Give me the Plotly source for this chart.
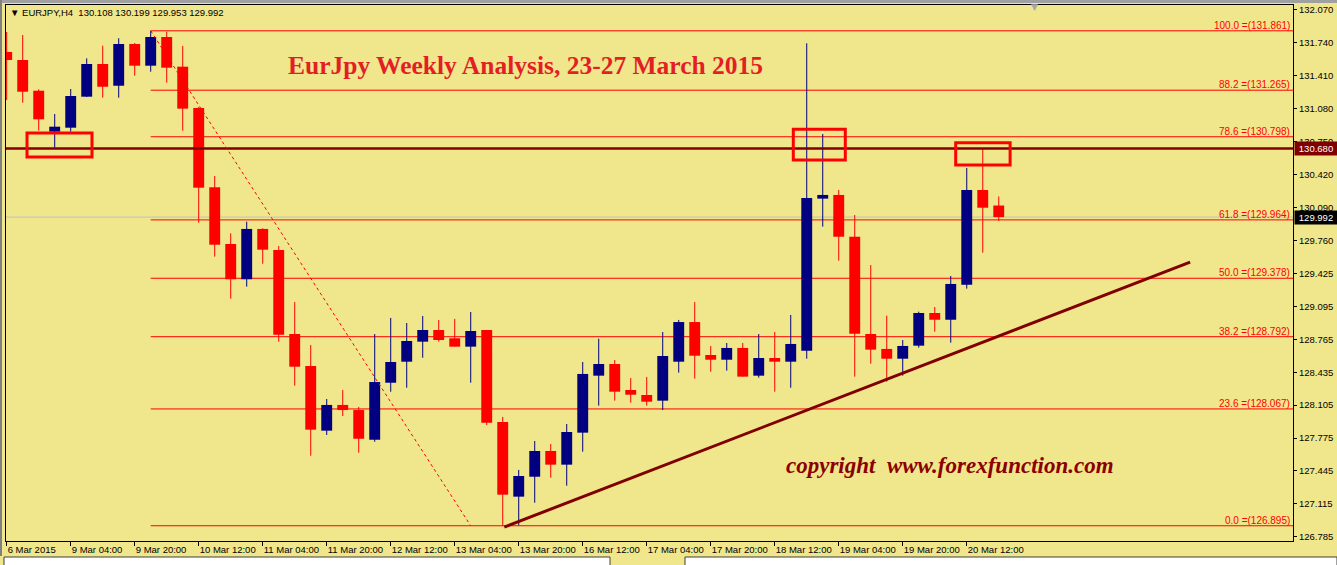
import plotly.graph_objects as go

# ---------------- data ----------------
tick_idx = [0, 4, 8, 12, 16, 20, 24, 28, 32, 36, 40, 44, 48, 52, 56, 60]
tick_labels = ["6 Mar 2015", "9 Mar 04:00", "9 Mar 20:00", "10 Mar 12:00", "11 Mar 04:00",
               "11 Mar 20:00", "12 Mar 12:00", "13 Mar 04:00", "13 Mar 20:00", "16 Mar 12:00",
               "17 Mar 04:00", "17 Mar 20:00", "18 Mar 12:00", "19 Mar 04:00", "19 Mar 20:00",
               "20 Mar 12:00"]

opens = [131.649, 131.568, 131.260, 130.849, 130.889, 131.200, 131.528, 131.310, 131.729, 131.511,
         131.799, 131.501, 131.087, 130.291, 129.722, 129.368, 129.873, 129.662, 128.819, 128.498,
         127.849, 128.107, 128.056, 127.758, 128.330, 128.541, 128.742, 128.859, 128.776, 128.692,
         128.859, 127.936, 127.187, 127.387, 127.645, 127.508, 127.829, 128.401, 128.518, 128.257,
         128.207, 128.150, 128.541, 128.939, 128.608, 128.561, 128.679, 128.401, 128.578, 128.541,
         128.651, 130.177, 130.214, 129.795, 128.819, 128.669, 128.571, 128.702, 129.030, 128.962,
         129.314, 130.264, 130.108]
highs = [131.849, 131.819, 131.274, 131.026, 131.277, 131.585, 131.712, 131.786, 131.739, 131.861,
         131.852, 131.709, 131.097, 130.404, 129.829, 129.946, 129.880, 129.702, 129.140, 128.709,
         128.167, 128.257, 128.087, 128.819, 128.980, 128.929, 129.000, 128.960, 128.970, 129.040,
         128.859, 127.987, 127.455, 127.745, 127.715, 127.916, 128.538, 128.772, 128.558, 128.378,
         128.388, 128.839, 128.960, 129.140, 128.699, 128.729, 128.729, 128.819, 128.839, 129.010,
         131.736, 130.826, 130.264, 130.013, 129.511, 129.003, 128.759, 129.043, 129.090, 129.401,
         130.485, 130.682, 130.199]
lows = [131.167, 131.140, 130.859, 130.688, 130.849, 131.197, 131.190, 131.190, 131.411, 131.451,
        131.341, 130.859, 129.936, 129.595, 129.173, 129.294, 129.524, 128.742, 128.300, 127.598,
        127.806, 127.996, 127.628, 127.738, 128.240, 128.280, 128.581, 128.742, 128.692, 128.330,
        127.906, 126.895, 126.900, 127.126, 127.377, 127.297, 127.638, 128.100, 128.150, 128.130,
        128.100, 128.056, 128.431, 128.371, 128.441, 128.451, 128.391, 128.381, 128.240, 128.280,
        128.571, 129.896, 129.555, 128.391, 128.521, 128.340, 128.401, 128.682, 128.842, 128.732,
        129.274, 129.635, 129.953]
closes = [131.568, 131.250, 130.973, 130.899, 131.207, 131.528, 131.300, 131.729, 131.511, 131.799,
          131.491, 131.080, 130.287, 129.715, 129.368, 129.873, 129.665, 128.812, 128.491, 127.859,
          128.107, 128.056, 127.768, 128.337, 128.538, 128.749, 128.859, 128.759, 128.692, 128.849,
          127.929, 127.207, 127.394, 127.645, 127.508, 127.836, 128.418, 128.518, 128.240, 128.210,
          128.140, 128.598, 128.939, 128.601, 128.561, 128.679, 128.391, 128.578, 128.541, 128.719,
          130.184, 130.214, 129.795, 128.822, 128.662, 128.571, 128.699, 129.030, 128.962, 129.321,
          130.264, 130.086, 129.992]

fib_levels = [131.861, 131.265, 130.798, 129.964, 129.378, 128.792, 128.067, 126.895]
fib_labels = ["100.0 =(131.861)", "88.2 =(131.265)", "78.6 =(130.798)", "61.8 =(129.964)",
              "50.0 =(129.378)", "38.2 =(128.792)", "23.6 =(128.067)", "0.0 =(126.895)"]

ytick_vals = [132.070, 131.740, 131.410, 131.080, 130.750, 130.420, 130.090, 129.760, 129.425,
              129.095, 128.765, 128.435, 128.105, 127.775, 127.445, 127.115, 126.785]
ytick_text = ["132.070", "131.740", "131.410", "131.080", "130.750", "130.420", "130.090", "129.760",
              "129.425", "129.095", "128.765", "128.435", "128.105", "127.775", "127.445", "127.115",
              "126.785"]

resistance = 130.680
bid = 129.992
header = "▼ EURJPY,H4  130.108 130.199 129.953 129.992"
title_text = "EurJpy Weekly Analysis, 23-27 March 2015"
copyright_text = "copyright  www.forexfunction.com"

# ---------------- styles ----------------
BG = "#F0E68C"
UP = "#000080"
DN = "#FF0000"
DARKRED = "#800000"
n = len(opens)
assert len(highs) == n and len(lows) == n and len(closes) == n

fig = go.Figure()

for is_up, col in [(True, UP), (False, DN)]:
    idx = [i for i in range(n) if (closes[i] >= opens[i]) == is_up]
    wx, wy = [], []
    for i in idx:
        wx += [i, i, None]
        wy += [lows[i], highs[i], None]
    fig.add_trace(go.Scatter(x=wx, y=wy, mode="lines", line=dict(color=col, width=1),
                             hoverinfo="skip"))
    fig.add_trace(go.Bar(x=idx,
                         y=[max(abs(closes[i] - opens[i]), 0.004) for i in idx],
                         base=[min(opens[i], closes[i]) for i in idx],
                         width=0.68, marker=dict(color=col, line=dict(width=0))))

shapes = []
for lv in fib_levels:
    shapes.append(dict(type="line", xref="x", yref="y", x0=9, x1=80.4, y0=lv, y1=lv,
                       line=dict(color="#FF0000", width=1), layer="below"))
shapes.append(dict(type="line", xref="paper", yref="y", x0=0, x1=1, y0=bid, y1=bid,
                   line=dict(color="#C0C0C0", width=1), layer="below"))
shapes.append(dict(type="line", xref="paper", yref="y", x0=0, x1=1, y0=resistance, y1=resistance,
                   line=dict(color=DARKRED, width=2.5)))
shapes.append(dict(type="line", xref="x", yref="y", x0=9, y0=131.861, x1=29, y1=126.895,
                   line=dict(color="#FF0000", width=1, dash="dot")))
shapes.append(dict(type="line", xref="x", yref="y", x0=31.1, y0=126.882, x1=73.96, y1=129.54,
                   line=dict(color=DARKRED, width=3)))
for (x0, x1, y0, y1) in [(1.27, 5.33, 130.595, 130.836), (49.16, 52.41, 130.565, 130.873),
                         (59.31, 62.71, 130.515, 130.739)]:
    shapes.append(dict(type="rect", xref="x", yref="y", x0=x0, x1=x1, y0=y0, y1=y1,
                       line=dict(color="#FF0000", width=3), fillcolor="rgba(0,0,0,0)"))

def px(x):
    return (x - 6) / 1287.0

def py(y):
    return (541 - y) / 536.0

shapes.append(dict(type="rect", xref="paper", yref="paper", x0=px(0), x1=px(1337), y0=py(0), y1=py(3),
                   fillcolor="#A0A0A0", line=dict(width=0)))
shapes.append(dict(type="line", xref="paper", yref="paper", x0=px(1), x1=px(1), y0=py(0), y1=py(556),
                   line=dict(color="#808080", width=2)))
for (a, b) in [(4, 610), (685, 1337)]:
    shapes.append(dict(type="rect", xref="paper", yref="paper", x0=px(a), x1=px(b), y0=py(557), y1=py(566),
                       fillcolor="#FFFFFF", line=dict(color="#404040", width=1)))

annotations = []
for lv, lab in zip(fib_levels, fib_labels):
    annotations.append(dict(xref="paper", yref="y", x=1, y=lv, text=lab, showarrow=False,
                            xanchor="right", yanchor="bottom", xshift=-1, yshift=-2,
                            font=dict(family="Liberation Sans", size=10, color="#FF0000")))
annotations.append(dict(xref="paper", yref="y", x=1, y=resistance, text=f"{resistance:.3f}", showarrow=False,
                        xanchor="left", yanchor="middle", xshift=1, bgcolor=DARKRED, borderpad=1,
                        width=40, font=dict(family="Liberation Sans", size=9.5, color="white")))
annotations.append(dict(xref="paper", yref="y", x=1, y=bid, text=f"{bid:.3f}", showarrow=False,
                        xanchor="left", yanchor="middle", xshift=1, bgcolor="#000000", borderpad=1,
                        width=40, font=dict(family="Liberation Sans", size=9.5, color="white")))
annotations.append(dict(xref="paper", yref="paper", x=px(8), y=py(12), text=header, showarrow=False,
                        xanchor="left", yanchor="middle",
                        font=dict(family="Liberation Sans", size=9.5, color="black")))
annotations.append(dict(xref="paper", yref="paper", x=px(1034), y=py(7), text="▼", showarrow=False,
                        xanchor="center", yanchor="middle",
                        font=dict(family="DejaVu Sans", size=9, color="#A8A8A8")))
annotations.append(dict(xref="paper", yref="paper", x=px(525), y=py(65), text="<b>" + title_text + "</b>",
                        showarrow=False, xanchor="center", yanchor="middle",
                        font=dict(family="Liberation Serif", size=25.5, color="#E31E24")))
annotations.append(dict(xref="paper", yref="paper", x=px(950), y=py(465), text="<b><i>" + copyright_text + "</i></b>",
                        showarrow=False, xanchor="center", yanchor="middle",
                        font=dict(family="Liberation Serif", size=23, color="#8B0000")))

fig.update_layout(
    width=1337, height=565,
    margin=dict(l=6, r=44, t=5, b=24, autoexpand=False),
    paper_bgcolor=BG, plot_bgcolor=BG,
    showlegend=False, barmode="overlay",
    shapes=shapes, annotations=annotations,
    xaxis=dict(range=[-0.044, 80.39], tickmode="array", tickvals=tick_idx, ticktext=tick_labels,
               ticks="outside", ticklen=4, tickcolor="black", ticklabelposition="outside right",
               tickangle=0, automargin=False,
               showgrid=False, zeroline=False, showline=True, linecolor="black", linewidth=1,
               mirror=True, tickfont=dict(family="Liberation Sans", size=9.5, color="black"),
               fixedrange=True),
    yaxis=dict(side="right", range=[126.742, 132.12], tickmode="array", tickvals=ytick_vals,
               ticktext=ytick_text, ticks="outside", ticklen=3, tickcolor="black", automargin=False,
               showgrid=False, zeroline=False, showline=True, linecolor="black", linewidth=1,
               mirror=True, tickfont=dict(family="Liberation Sans", size=9.5, color="black"),
               fixedrange=True),
)

fig.write_html("out.html", config={"displayModeBar": False},
               post_script="document.body.style.margin='0px';document.body.style.overflow='hidden';")
